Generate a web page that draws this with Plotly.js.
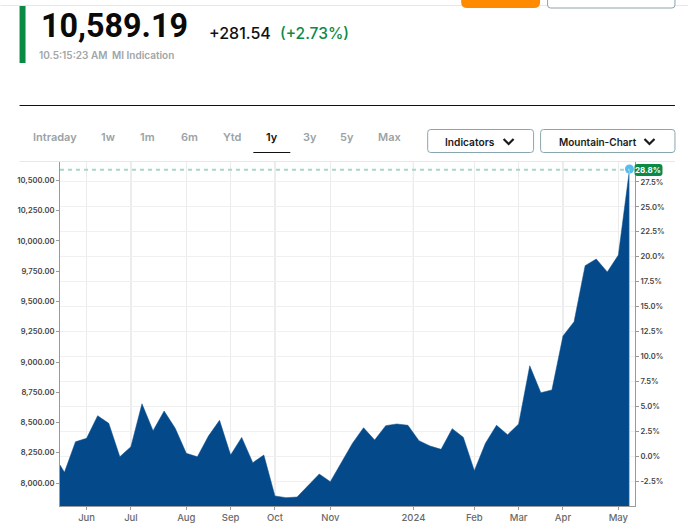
<!DOCTYPE html>
<html>
<head>
<meta charset="utf-8">
<script src="https://cdn.plot.ly/plotly-3.0.1.min.js"></script>
<style>html,body{margin:0;padding:0;background:#fff;overflow:hidden}#chart{width:688px;height:532px}</style>
</head>
<body>
<div id="chart"></div>
<script>
// trading-day index of each weekly sample
const tradingDay = [0,2,7,12,17,22,27,32,37,42,47,52,57,62,67,72,77,82,87,92,97,102,107,112,117,122,127,132,137,142,147,152,157,162,167,172,177,182,187,192,197,202,207,212,217,222,227,232,237,242,247,252,257];
const indexValues = [8149,8088,8341,8369,8556,8493,8217,8300,8655,8432,8595,8452,8245,8217,8388,8518,8231,8377,8168,8231,7893,7879,7884,7975,8074,8011,8168,8328,8457,8355,8474,8488,8477,8350,8306,8278,8449,8378,8102,8328,8477,8399,8488,8969,8746,8769,9215,9333,9796,9851,9744,9884,10589];
const lastDay = [257];
const lastPct = [28.8];
const monthTicks = [12,32,57,77,97,122,159.5,187,207,227,252];
const monthLabels = ['Jun','Jul','Aug','Sep','Oct','Nov','2024','Feb','Mar','Apr','May'];
const leftTicks = [8000,8250,8500,8750,9000,9250,9500,9750,10000,10250,10500];
const leftLabels = ['8,000.00','8,250.00','8,500.00','8,750.00','9,000.00','9,250.00','9,500.00','9,750.00','10,000.00','10,250.00','10,500.00'];
const rightTicks = [-2.5,0,2.5,5,7.5,10,12.5,15,17.5,20,22.5,25,27.5];
const rightLabels = ['-2.5%','0.0%','2.5%','5.0%','7.5%','10.0%','12.5%','15.0%','17.5%','20.0%','22.5%','25.0%','27.5%'];
const tabs = [['Intraday',32],['1w',101],['1m',140],['6m',181],['Ytd',223],['1y',266],['3y',303],['5y',340],['Max',378]];

const W=688,H=532,L=59.5,R=635,T=161,B=506;
const px=x=>(x-L)/(R-L), py=y=>(B-y)/(B-T);
const FONT='Inter, "Noto Sans", sans-serif';
const ann=(text,x,y,size,color,weight,anchor,family)=>({text,x:px(x),y:py(y),xref:'paper',yref:'paper',xanchor:anchor||'left',yanchor:'middle',showarrow:false,borderpad:0,borderwidth:0,font:{family:family||FONT,size,color,weight:weight||500}});
const P=(x,y)=>px(x)+','+py(y);
const rect=(x0,y0,x1,y1,fill,line)=>({type:'rect',xref:'paper',yref:'paper',x0:px(x0),x1:px(x1),y0:py(y0),y1:py(y1),fillcolor:fill,line:{width:line?1:0,color:line||fill},layer:'above'});
const hline=(x0,x1,y,color,w)=>({type:'line',xref:'paper',yref:'paper',x0:px(x0),x1:px(x1),y0:py(y),y1:py(y),line:{color,width:w||1},layer:'above'});
const rrect=(x0,y0,x1,y1,r,fill,line)=>({type:'path',xref:'paper',yref:'paper',layer:'above',fillcolor:fill,line:{width:line?1:0,color:line||fill},
  path:`M ${P(x0+r,y0)} L ${P(x1-r,y0)} Q ${P(x1,y0)} ${P(x1,y0+r)} L ${P(x1,y1-r)} Q ${P(x1,y1)} ${P(x1-r,y1)} L ${P(x0+r,y1)} Q ${P(x0,y1)} ${P(x0,y1-r)} L ${P(x0,y0+r)} Q ${P(x0,y0)} ${P(x0+r,y0)} Z`});
const chevron=(x,y)=>({type:'path',xref:'paper',yref:'paper',layer:'above',line:{color:'#1a1a1a',width:2.2},path:`M ${P(x,y-2.5)} L ${P(x+5,y+2.5)} L ${P(x+10,y-2.5)}`});

const GREEN='#0b8a46', TABC='#9aa3a6', BORDER='#8aa6ad';
const annotations=[
  ann('10,589.19',40,26.5,32.3,'#0a0a0a',700,'left','Roboto'),
  ann('+281.54',209,33,16,'#111',500),
  ann('(+2.73%)',280,33,15.5,GREEN,500),
  ann('10.5:15:23 AM',38,55,10,'#a0a6a8',600),
  ann('MI Indication',112,55,10,'#a0a6a8',600),
  ann('Indicators',445,141.5,10.2,'#1a1a1a',600),
  ann('Mountain-Chart',559,141.5,10,'#1a1a1a',600),
  ann('28.8%',648.5,170,8,'#fff',700,'center')
];
tabs.forEach(t=>annotations.push(ann(t[0],t[1],136.5,11,t[0]==='1y'?'#111':TABC,600)));

const shapes=[
  {type:'line',xref:'x',yref:'paper',x0:monthTicks[6],x1:monthTicks[6],y0:0,y1:1,line:{color:'#d8d8d8',width:1.2},layer:'below'},
  {type:'line',xref:'x',yref:'y',x0:0,x1:lastDay[0],y0:indexValues[52],y1:indexValues[52],line:{color:'#a6dabf',width:2,dash:'4px,4px'},layer:'above'},
  {type:'line',xref:'x',yref:'y',x0:lastDay[0],x1:lastDay[0],y0:7810,y1:indexValues[52],line:{color:'#9cc6ea',width:1},layer:'above'},
  hline(0,688,5.5,'#e3eaea',1),
  rect(19,6,25,63,GREEN),
  hline(19,675,105.5,'#111',1),
  hline(19,675,161.5,'#e8e8e8',1),
  hline(253,290,152.5,'#111',1),
  rrect(427.5,129.5,533.5,152.5,3,'#fff',BORDER),
  rrect(540.5,129.5,675,152.5,3,'#fff',BORDER),
  chevron(503.5,141.5),
  chevron(644.5,141.5),
  rrect(461,-6,540,8,6,'#ff8a00'),
  rrect(547.5,-6,675,8,3,'#fff',BORDER),
  rrect(634.5,164,662.5,176,3,GREEN)
];

const traces=[
  {x:tradingDay,y:indexValues,type:'scatter',mode:'lines',fill:'tozeroy',fillcolor:'#044a8b',line:{color:'#044a8b',width:0.5},yaxis:'y',hoverinfo:'skip',showlegend:false},
  {x:lastDay,y:lastPct,type:'scatter',mode:'markers',marker:{color:'#55bdf2',size:9},yaxis:'y2',hoverinfo:'skip',showlegend:false,cliponaxis:false}
];
const tickFont={family:FONT,size:7.6,color:'#444',weight:600};
const layout={
  width:W,height:H,margin:{l:L,r:W-R,t:T,b:H-B,pad:0},paper_bgcolor:'#fff',plot_bgcolor:'#fff',showlegend:false,
  xaxis:{type:'linear',range:[0,259.5],tickmode:'array',tickvals:monthTicks,ticktext:monthLabels,showgrid:true,gridcolor:'#ececec',gridwidth:1.2,zeroline:false,showline:true,linecolor:'#9a9a9a',linewidth:1,ticks:'outside',ticklen:3,tickcolor:'#9a9a9a',tickfont:{family:FONT,size:9.5,color:'#6a6a6a',weight:500},fixedrange:true},
  yaxis:{range:[7810,10661],tickmode:'array',tickvals:leftTicks,ticktext:leftLabels,showgrid:false,zeroline:false,showline:true,linecolor:'#9a9a9a',linewidth:1,ticks:'outside',ticklen:3,tickcolor:'#9a9a9a',tickfont:tickFont,fixedrange:true},
  yaxis2:{overlaying:'y',side:'right',range:[-5.0,29.6],tickmode:'array',tickvals:rightTicks,ticktext:rightLabels,showgrid:true,gridcolor:'#f0f0f0',gridwidth:1,zeroline:false,showline:true,linecolor:'#9a9a9a',linewidth:1,ticks:'outside',ticklen:3,tickcolor:'#9a9a9a',tickfont:tickFont,fixedrange:true},
  annotations,shapes
};
Plotly.newPlot('chart',traces,layout,{staticPlot:true,displayModeBar:false});
</script>
</body>
</html>
